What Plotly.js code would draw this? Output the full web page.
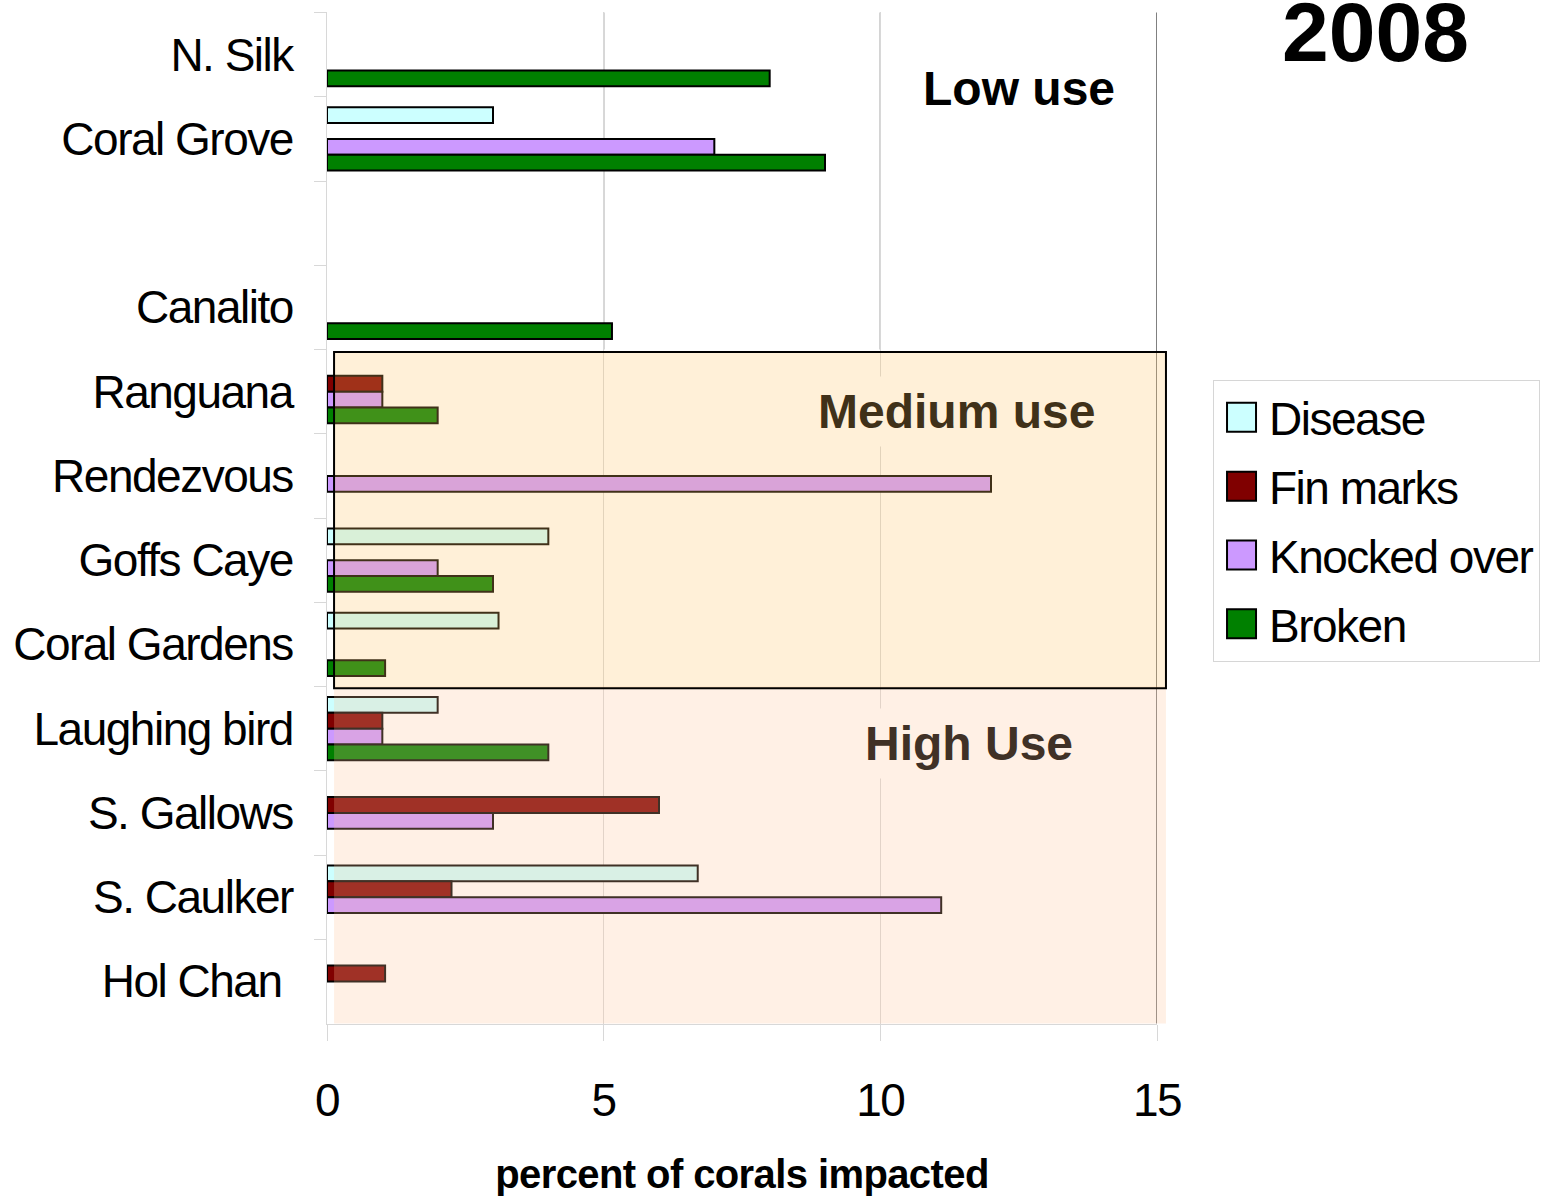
<!DOCTYPE html>
<html>
<head>
<meta charset="utf-8">
<script src="https://cdn.plot.ly/plotly-3.0.1.min.js"></script>
<style>
html,body{margin:0;padding:0;background:#fff;}
.ytick text, .xtick text, text.legendtext { letter-spacing: -1.5px; }
.g-xtitle text { letter-spacing: -0.6px; }
</style>
</head>
<body>
<div id="chart" style="width:1545px;height:1196px;"></div>
<script>
// ---- data ----
const sites = ['N. Silk', 'Coral Grove', ' ', 'Canalito', 'Ranguana', 'Rendezvous', 'Goffs Caye',
               'Coral Gardens', 'Laughing bird', 'S. Gallows', 'S. Caulker', 'Hol Chan\u00a0'];
const disease = [null, 3, null, null, null, null, 4, 3.1, 2, null, 6.7, null];
const finMarks = [null, null, null, null, 1, null, null, null, 1, 6, 2.25, 1.05];
const knockedOver = [null, 7, null, null, 1, 12, 2, null, 1, 3, 11.1, null];
const broken = [8, 9, null, 5.15, 2, null, 3, 1.05, 4, null, null, null];
const seriesNames = ['Disease', 'Fin marks', 'Knocked over', 'Broken'];
const seriesColors = ['#ccffff', '#800000', '#cc99ff', '#008000'];
const xTicks = [0, 5, 10, 15];
const zoneLabels = ['Low use', 'Medium use', 'High Use'];
const yearLabel = '2008';
const xTitle = 'percent of corals impacted';

const FONT = 'Liberation Sans, Arial, sans-serif';
const seriesValues = [disease, finMarks, knockedOver, broken];

const traces = seriesValues.map((vals, i) => ({
  type: 'bar',
  orientation: 'h',
  name: seriesNames[i],
  legendgroup: seriesNames[i],
  x: vals,
  y: sites,
  marker: {color: seriesColors[i], line: {color: '#000000', width: 2}},
  hoverinfo: 'x+y+name'
}));

const lastIdx = sites.length - 1;
const shapes = [
  // black grid segments in low-use area
  {type: 'line', layer: 'below', xref: 'x', yref: 'y', x0: 5, x1: 5, y0: -0.5, y1: 3.5, line: {color: '#000', width: 1}},
  {type: 'line', layer: 'below', xref: 'x', yref: 'y', x0: 10, x1: 10, y0: -0.5, y1: 3.5, line: {color: '#000', width: 1}},
  {type: 'line', layer: 'below', xref: 'x', yref: 'y', x0: 15, x1: 15, y0: -0.5, y1: lastIdx + 0.5, line: {color: '#000', width: 1}},
  // high use tint
  {type: 'rect', layer: 'above', xref: 'paper', yref: 'y', x0: 0.0085, x1: 1.0108, y0: 7.5, y1: lastIdx + 0.5,
   fillcolor: 'rgba(255,195,150,0.25)', line: {width: 0}},
  // medium use tint with border
  {type: 'rect', layer: 'above', xref: 'paper', yref: 'y', x0: 0.0085, x1: 1.0108, y0: 3.53, y1: 7.52,
   fillcolor: 'rgba(255,195,100,0.25)', line: {color: '#000000', width: 2}}
];

const annotations = [
  {text: '<b>' + zoneLabels[0] + '</b>', xref: 'x', yref: 'y', x: 12.5, y: 0.4, showarrow: false,
   font: {family: FONT, size: 48, color: '#000'}},
  {text: '<b>' + zoneLabels[1] + '</b>', xref: 'x', yref: 'y', x: 11.37, y: 4.23, showarrow: false,
   font: {family: FONT, size: 48, color: '#403119'}, bgcolor: '#fff0d8', borderpad: 8},
  {text: '<b>' + zoneLabels[2] + '</b>', xref: 'x', yref: 'y', x: 11.6, y: 8.18, showarrow: false,
   font: {family: FONT, size: 48, color: '#403126'}, bgcolor: '#fff0e5', borderpad: 8},
  {text: '<b>' + yearLabel + '</b>', xref: 'paper', yref: 'paper', x: 1.263, y: 0.98, showarrow: false,
   xanchor: 'center', yanchor: 'middle', font: {family: FONT, size: 84, color: '#000'}}
];

const layout = {
  width: 1545, height: 1196,
  margin: {l: 327, r: 388, t: 12, b: 172, pad: 0, autoexpand: false},
  paper_bgcolor: '#ffffff', plot_bgcolor: '#ffffff',
  font: {family: FONT, color: '#000'},
  barmode: 'group', bargap: 0.25, bargroupgap: 0,
  showlegend: true,
  legend: {
    x: 1.0675, y: 0.6364, xanchor: 'left', yanchor: 'top',
    bgcolor: '#ffffff', bordercolor: '#d6d6d6', borderwidth: 1,
    font: {family: FONT, size: 46, color: '#000'},
    itemwidth: 45, tracegroupgap: 6, traceorder: 'grouped'
  },
  xaxis: {
    range: [0, 15], tickvals: xTicks, ticktext: xTicks.map(String),
    showgrid: true, gridcolor: '#d8d8d8', gridwidth: 1, zeroline: false,
    showline: true, linecolor: '#d8d8d8', linewidth: 1,
    ticks: 'outside', ticklen: 16, tickcolor: '#d8d8d8',
    tickfont: {family: FONT, size: 46, color: '#000'},
    ticklabelstandoff: 20,
    title: {text: '<b>' + xTitle + '</b>', font: {family: FONT, size: 40, color: '#000'}, standoff: 36},
    automargin: false, fixedrange: true
  },
  yaxis: {
    type: 'category', categoryorder: 'array', categoryarray: sites, autorange: 'reversed',
    showgrid: false, zeroline: false,
    showline: true, linecolor: '#d8d8d8', linewidth: 1,
    ticks: 'outside', tickson: 'boundaries', ticklen: 12, tickcolor: '#d8d8d8',
    tickfont: {family: FONT, size: 46, color: '#000'},
    ticklabelstandoff: 24,
    automargin: false, fixedrange: true
  },
  shapes: shapes,
  annotations: annotations
};

Plotly.newPlot('chart', traces, layout, {displayModeBar: false, staticPlot: true}).then(gd => {
  gd.querySelectorAll('g.legendpoints path').forEach(p => p.setAttribute('d', 'M14.5,14.5H-14.5V-14.5H14.5Z'));
});
</script>
</body>
</html>
